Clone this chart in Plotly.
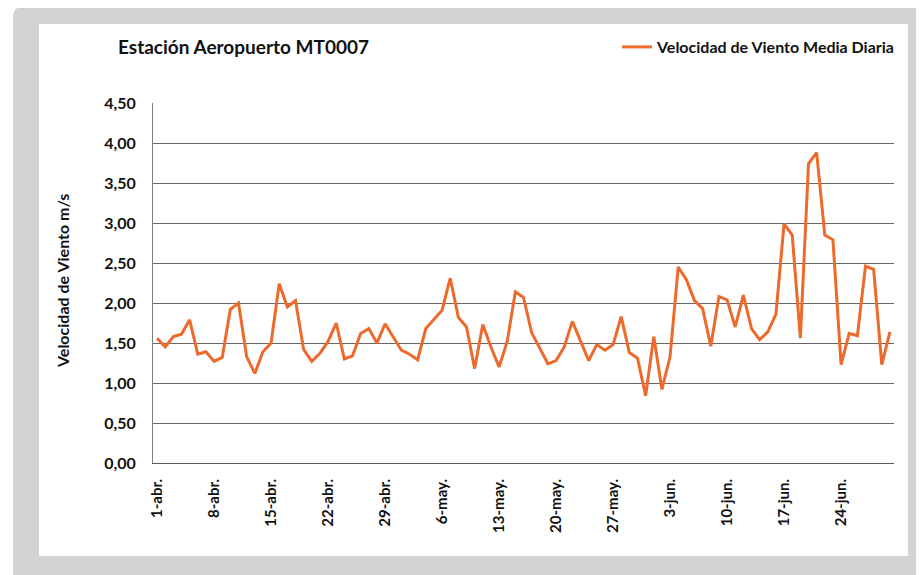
import plotly.graph_objects as go

dias = list(range(91))
velocidad = [
    1.56, 1.45, 1.58, 1.61, 1.79, 1.36, 1.39, 1.27, 1.32, 1.92,
    2.00, 1.33, 1.12, 1.39, 1.50, 2.24, 1.95, 2.03, 1.42, 1.27,
    1.37, 1.52, 1.75, 1.30, 1.34, 1.62, 1.68, 1.50, 1.74, 1.58,
    1.41, 1.36, 1.29, 1.68, 1.79, 1.91, 2.31, 1.82, 1.70, 1.18,
    1.73, 1.45, 1.20, 1.52, 2.14, 2.07, 1.63, 1.43, 1.24, 1.28,
    1.45, 1.77, 1.53, 1.28, 1.48, 1.41, 1.48, 1.83, 1.38, 1.31,
    0.84, 1.58, 0.92, 1.33, 2.45, 2.29, 2.03, 1.93, 1.46, 2.08,
    2.04, 1.70, 2.10, 1.68, 1.54, 1.64, 1.86, 2.99, 2.85, 1.56,
    3.74, 3.88, 2.85, 2.79, 1.23, 1.62, 1.59, 2.46, 2.42, 1.23,
    1.64,
]
tick_pos = [0, 7, 14, 21, 28, 35, 42, 49, 56, 63, 70, 77, 84]
tick_txt = ["1-abr.", "8-abr.", "15-abr.", "22-abr.", "29-abr.", "6-may.",
            "13-may.", "20-may.", "27-may.", "3-jun.", "10-jun.", "17-jun.", "24-jun."]
y_ticks = [0, 0.5, 1, 1.5, 2, 2.5, 3, 3.5, 4, 4.5]

W, H = 924, 575
L, R, T, B = 145, 38, 95, 120
pw, ph = W - L - R, H - T - B

def px(x):
    return (x - L) / pw

def py(y):
    return (H - B - y) / ph

FONT = "Lato"
orange = "#EC6A2C"
txt = "#111111"

fig = go.Figure()
fig.add_trace(go.Scatter(
    x=dias, y=velocidad, mode="lines",
    name="<b>Velocidad de Viento Media Diaria</b>",
    line=dict(color=orange, width=3),
))

# gray frame with rounded top-left corner, and white chart area
gx0, gy0, gx1, gy1 = px(5), py(-1), px(940), py(600)
rx, ry = 10 / pw, 10 / ph
path = (f"M {gx0},{gy1} L {gx0},{gy0 - ry} Q {gx0},{gy0} {gx0 + rx},{gy0} "
        f"L {gx1},{gy0} L {gx1},{gy1} Z")
shapes = [
    dict(type="path", xref="paper", yref="paper", path=path,
         fillcolor="#d3d3d3", line=dict(width=0), layer="below"),
    dict(type="rect", xref="paper", yref="paper",
         x0=px(31), x1=px(900), y0=py(548), y1=py(16),
         fillcolor="white", line=dict(width=0), layer="below"),
]

fig.update_layout(
    width=W, height=H,
    margin=dict(l=L, r=R, t=T, b=B),
    paper_bgcolor="white", plot_bgcolor="white",
    separators=",.",
    shapes=shapes,
    font=dict(family=FONT, color=txt),
    title=dict(text="<b>Estación Aeropuerto MT0007</b>", xref="container", yref="container",
               x=110 / W, y=1 - 39 / H, xanchor="left", yanchor="middle",
               font=dict(size=19, family=FONT, color=txt)),
    showlegend=True,
    legend=dict(x=px(892), y=py(39), xanchor="right", yanchor="middle",
                bgcolor="rgba(0,0,0,0)", font=dict(size=16, family=FONT, color=txt),
                itemwidth=30),
    xaxis=dict(range=[-0.5, 90.5], tickmode="array", tickvals=tick_pos,
               ticktext=[f"<b>{t}</b>" for t in tick_txt], tickangle=-90,
               showgrid=False, zeroline=False, showline=True, linecolor="#595959",
               linewidth=1, ticks="", ticklabelstandoff=9,
               tickfont=dict(size=15, family=FONT, color=txt)),
    yaxis=dict(range=[0, 4.5], tickmode="array", tickvals=y_ticks,
               ticktext=[f"<b>{v:.2f}</b>".replace(".", ",") for v in y_ticks],
               showgrid=True, gridcolor="#666666", gridwidth=1, zeroline=False,
               showline=True, linecolor="#808080", linewidth=1,
               ticks="", ticklabelstandoff=13,
               tickfont=dict(size=16, family=FONT, color=txt)),
    annotations=[dict(text="<b>Velocidad de Viento m/s</b>", xref="paper", yref="paper",
                      x=px(54), y=py(273), xanchor="center", yanchor="middle",
                      textangle=-90, showarrow=False,
                      font=dict(size=16, family=FONT, color=txt))],
)

fig.write_html("out.html")
